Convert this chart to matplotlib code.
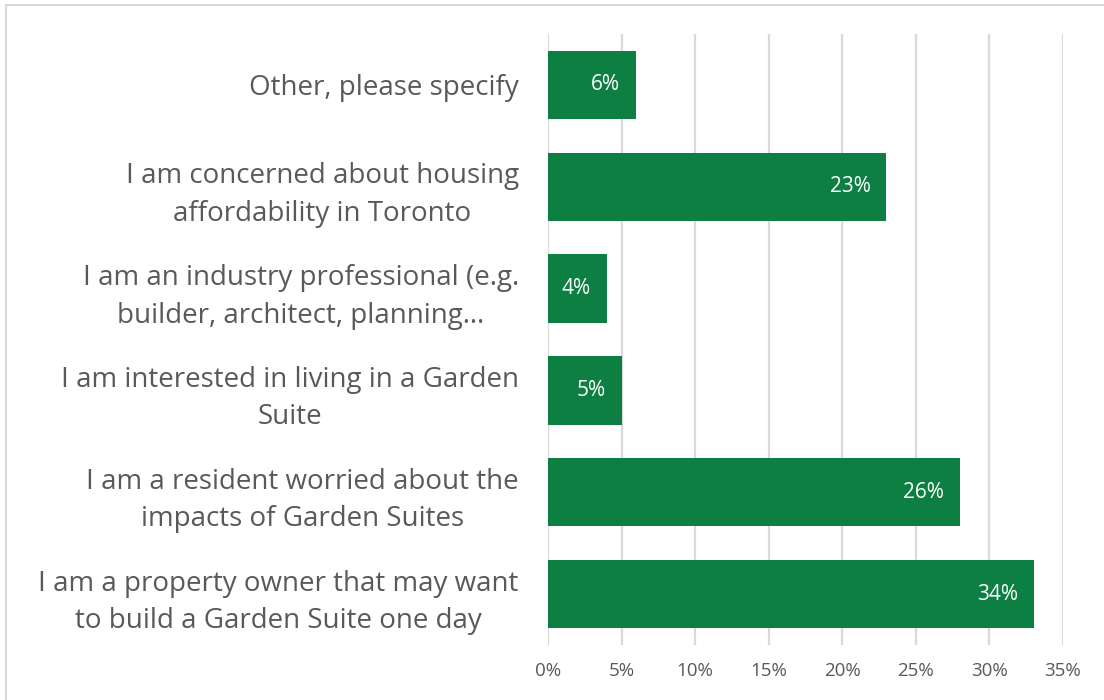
import matplotlib

matplotlib.use("Agg")
import matplotlib.pyplot as plt
from matplotlib.patches import Rectangle

# 数据（从上到下的顺序）
categories = [
    "Other, please specify",
    "I am concerned about housing\naffordability in Toronto",
    "I am an industry professional (e.g.\nbuilder, architect, planning…",
    "I am interested in living in a Garden\nSuite",
    "I am a resident worried about the\nimpacts of Garden Suites",
    "I am a property owner that may want\nto build a Garden Suite one day",
]
bar_values = [6, 23, 4, 5, 28, 33]
bar_labels = ["6%", "23%", "4%", "5%", "26%", "34%"]
x_ticks = [0, 5, 10, 15, 20, 25, 30, 35]

bar_color = "#0e7f42"
text_color = "#595959"
grid_color = "#d9d9d9"

plt.rcParams["font.family"] = ["Open Sans", "DejaVu Sans"]

fig = plt.figure(figsize=(11.04, 7.0), dpi=100)
ax = fig.add_axes([548 / 1104, 1 - 645 / 700, (1063 - 548) / 1104, (645 - 34) / 700])

y_pos = list(range(len(categories)))
bars = ax.barh(y_pos, bar_values, height=0.67, color=bar_color, zorder=3)

for rect, label in zip(bars, bar_labels):
    ax.annotate(
        label,
        xy=(rect.get_width(), rect.get_y() + rect.get_height() / 2),
        xytext=(-11.5, 0),
        textcoords="offset points",
        ha="right",
        va="center",
        color="white",
        fontsize=15,
    )

ax.set_xlim(0, 35)
ax.set_ylim(len(categories) - 0.5, -0.5)
ax.set_xticks(x_ticks)
ax.set_xticklabels([f"{t}%" for t in x_ticks])
ax.set_yticks(y_pos)
ax.set_yticklabels(categories, fontsize=20, color=text_color, linespacing=1.45)
for lbl in ax.get_yticklabels():
    lbl.set_multialignment("center")
ax.tick_params(axis="x", length=0, labelsize=13.5, labelcolor=text_color, pad=12)
ax.tick_params(axis="y", length=0, pad=21)
ax.xaxis.grid(True, color=grid_color, linewidth=1.6, zorder=0)
for spine in ax.spines.values():
    spine.set_visible(False)

# 外框
fig.patches.append(
    Rectangle((6 / 1104, -0.1), 1.2, 1 - 4.5 / 700 + 0.1, transform=fig.transFigure,
              fill=False, edgecolor="#d9d9d9", linewidth=1.5)
)

fig.savefig("out.png", dpi=100)
